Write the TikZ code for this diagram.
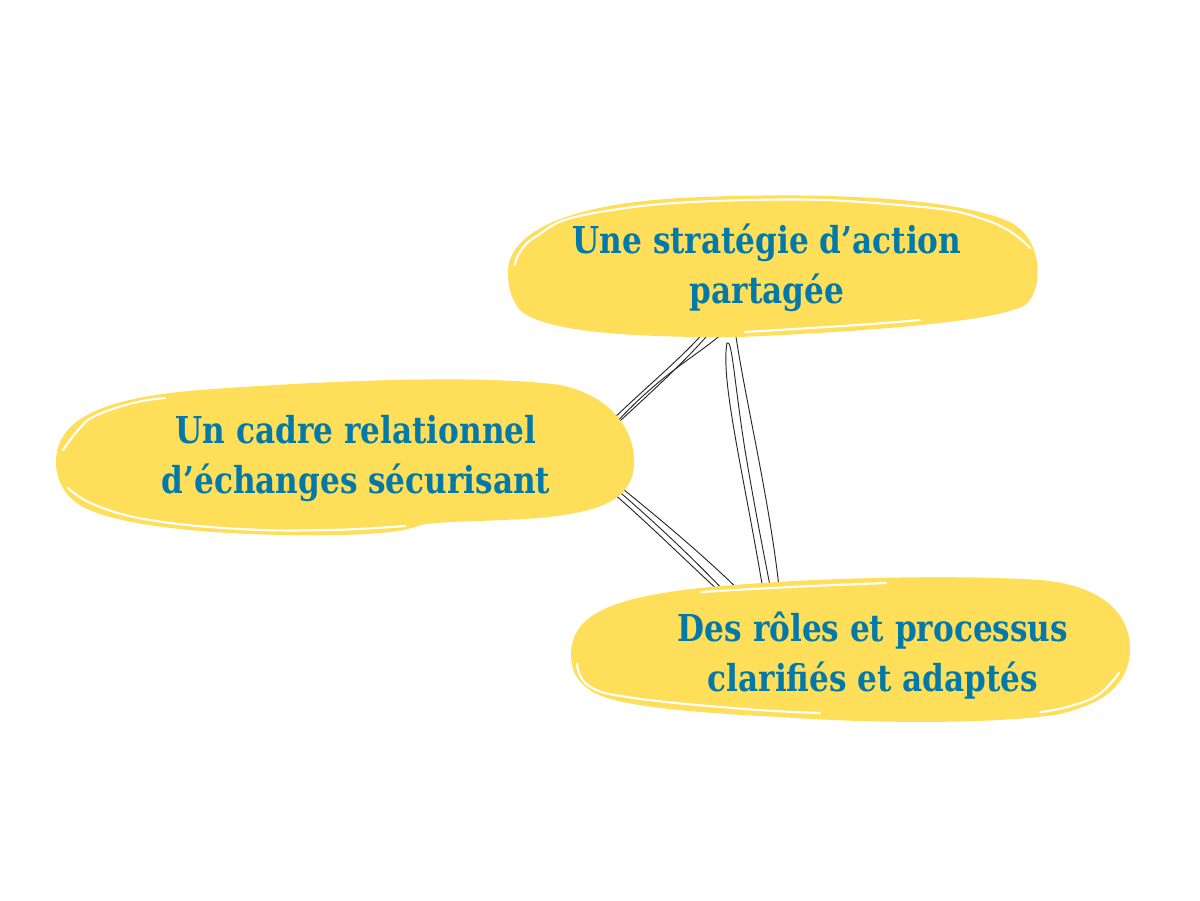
\documentclass[tikz,border=0pt]{standalone}
\usepackage{fontspec}
\newfontfamily\slabfont{DejaVu Serif}[FakeStretch=0.84]
\definecolor{blobyellow}{RGB}{255,222,89}
\definecolor{textblue}{RGB}{2,121,168}
\definecolor{linkgray}{RGB}{40,40,40}
\tikzset{every picture/.style={line width=0.75pt}}
\tikzset{
  blobfill/.style={fill=blobyellow, draw=none},
  blobrim/.style={draw=white, line width=1.6pt, line cap=round},
  linkline/.style={draw=linkgray, line width=0.7pt},
  blobtext/.style={align=center, inner sep=0.75pt, text=textblue, font=\slabfont\bfseries\fontsize{27.8}{37.5}\selectfont}
}
\begin{document}
\begin{tikzpicture}[x=0.75pt,y=0.75pt,yscale=-1,xscale=1]
	\useasboundingbox (0,0) rectangle (1200,900);
	
	%Link ends on the blobs
	\coordinate (stratA) at (706,330);
	\coordinate (stratB) at (712,330);
	\coordinate (stratC) at (726,330);
	\coordinate (stratD) at (735,330);
	\coordinate (cadreA) at (604,428);
	\coordinate (cadreB) at (608,432);
	\coordinate (cadreC) at (606,434);
	\coordinate (cadreD) at (615,488);
	\coordinate (cadreE) at (618,485);
	\coordinate (cadreF) at (613,493);
	\coordinate (rolesA) at (764,596);
	\coordinate (rolesB) at (772,596);
	\coordinate (rolesC) at (780,596);
	\coordinate (rolesD) at (727,594);
	\coordinate (rolesE) at (743,594);
	\coordinate (rolesF) at (720,592);
	
	%Curve Lines: strategie -- cadre
	\draw [linkline] (stratA) .. controls (680,360) and (640,392) .. (cadreA) ;
	\draw [linkline] (stratB) .. controls (685,362) and (648,395) .. (cadreB) ;
	\draw [linkline] (stratC) .. controls (700,355) and (660,372) .. (cadreC) ;
	%Curve Lines: strategie -- roles
	\draw [linkline] (rolesA) .. controls (745,480) and (720,380) .. (727,343) .. controls (732,338) and (734,380) .. (745,450) .. controls (755,510) and (765,560) .. (rolesB) ;
	\draw [linkline] (stratD) .. controls (745,400) and (770,500) .. (rolesC) ;
	%Curve Lines: cadre -- roles
	\draw [linkline] (cadreD) .. controls (650,518) and (690,555) .. (rolesD) ;
	\draw [linkline] (cadreE) .. controls (655,515) and (700,552) .. (rolesE) ;
	\draw [linkline] (cadreF) .. controls (650,525) and (685,560) .. (rolesF) ;
	
	%Shape: Blob strategie
	\path [blobfill] (508,272) .. controls (508,235) and (560,205) .. (680,198) .. controls (800,192) and (950,195) .. (1010,222) .. controls (1045,240) and (1043,292) .. (1025,305) .. controls (995,323) and (850,332) .. (740,337) .. controls (620,338) and (540,330) .. (520,310) .. controls (510,298) and (508,285) .. cycle ;
	\draw [blobrim] plot [smooth, tension=0.8] coordinates {(515,265) (535,237) (600,212) (750,200) (900,205) (986,220) (1030,248)} ;
	\draw [blobrim] plot [smooth, tension=0.7] coordinates {(745,332) (857,325) (920,320)} ;
	%Shape: Blob cadre
	\path [blobfill] (56,462) .. controls (56,420) and (100,398) .. (200,390) .. controls (320,381) and (480,374) .. (560,385) .. controls (610,395) and (636,430) .. (634,465) .. controls (632,500) and (600,512) .. (540,518) .. controls (480,522) and (430,521) .. (418,526) .. controls (400,533) and (360,536) .. (290,535) .. controls (200,534) and (120,525) .. (85,508) .. controls (65,498) and (56,480) .. cycle ;
	\draw [blobrim] plot [smooth, tension=0.7] coordinates {(63,450) (79,429) (95,416) (133,403) (165,398)} ;
	\draw [blobrim] plot [smooth, tension=0.7] coordinates {(68,488) (95,505) (150,520) (240,529) (330,530) (405,526)} ;
	%Shape: Blob roles
	\path [blobfill] (571,655) .. controls (571,615) and (610,598) .. (700,588) .. controls (800,578) and (950,574) .. (1040,580) .. controls (1110,586) and (1130,620) .. (1130,648) .. controls (1130,680) and (1110,702) .. (1060,714) .. controls (1000,724) and (880,724) .. (780,717) .. controls (680,712) and (610,705) .. (590,690) .. controls (575,680) and (571,668) .. cycle ;
	\draw [blobrim] plot [smooth, tension=0.7] coordinates {(701,592) (790,587) (886,583)} ;
	\draw [blobrim] plot [smooth, tension=0.7] coordinates {(577,664) (589,686) (634,698) (745,709) (820,713)} ;
	\draw [blobrim] plot [smooth, tension=0.7] coordinates {(1119,673) (1098,695) (1067,707) (1040,712)} ;
	
	% Text Node
	\draw (767,267.5) node [blobtext] (strat) {Une stratégie d’action\\partagée};
	% Text Node
	\draw (356,459) node [blobtext] (cadre) {Un cadre relationnel\\d’échanges sécurisant};
	% Text Node
	\draw (873,655.5) node [blobtext] (roles) {Des rôles et processus\\clarifiés et adaptés};
	
\end{tikzpicture}
\end{document}
